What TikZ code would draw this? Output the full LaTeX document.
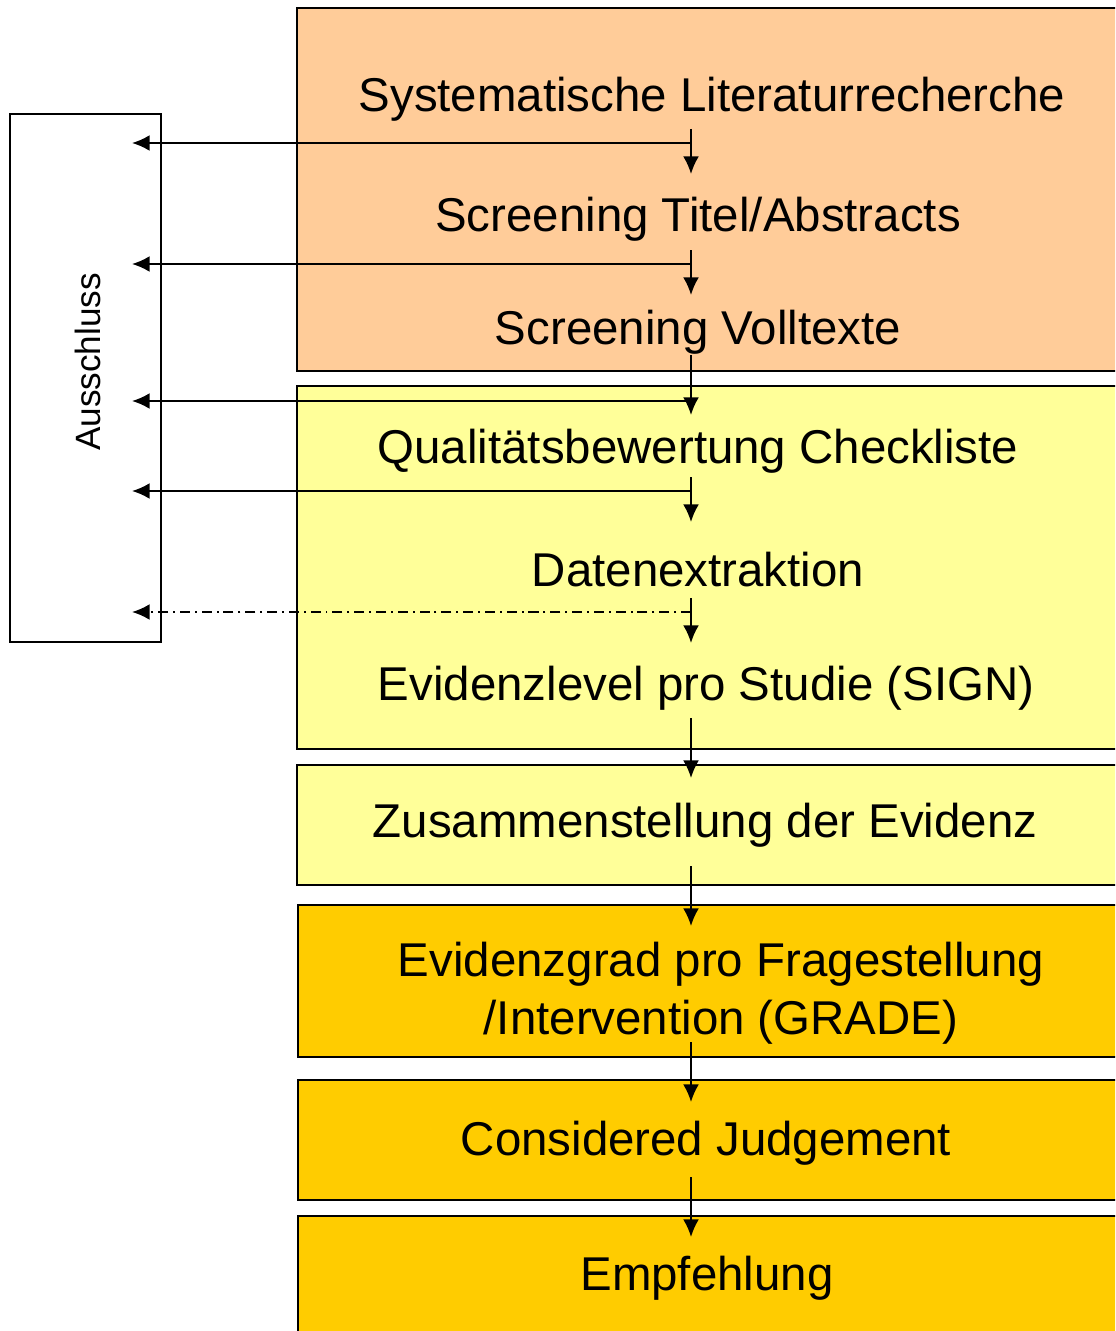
\documentclass[tikz,border=0pt]{standalone}
\usepackage{fontspec}
\setmainfont{Liberation Sans}
\usetikzlibrary{arrows.meta}
\definecolor{litorange}{HTML}{FFCC99}
\definecolor{evyellow}{HTML}{FFFF99}
\definecolor{recgold}{HTML}{FFCC00}
\tikzset{
  phase/.style={draw=black,line width=1.1pt},
  stagetext/.style={anchor=base,font=\fontsize{27}{33}\selectfont,align=center},
}
\begin{document}
\begin{tikzpicture}[>={Latex[length=10pt,width=9pt]},x=0.02cm,y=-0.02cm,line width=1.1pt]
\useasboundingbox (0,0) rectangle (1115,1331);
\clip (0,0) rectangle (1115,1331);
% Phases
\draw[phase,fill=litorange] (297,8) rectangle (1140,371);
\draw[phase,fill=evyellow] (297,386) rectangle (1140,749);
\draw[phase,fill=evyellow] (297,765) rectangle (1140,885);
\draw[phase,fill=recgold] (298,905) rectangle (1140,1057);
\draw[phase,fill=recgold] (298,1080) rectangle (1140,1200);
\draw[phase,fill=recgold] (298,1216) rectangle (1140,1360);
% Ausschluss
\node[draw,line width=1.1pt,minimum width=3.02cm,minimum height=10.56cm] (aus) at (85.5,378) {};
\node[rotate=90,font=\fontsize{20}{24}\selectfont] (auslbl) at (88,362) {Ausschluss};
\coordinate (aend) at (132,378);
% Stages
\node[stagetext] (lit) at (712,112) {Systematische Literaturrecherche};
\node[stagetext] (tiab) at (698,232) {Screening Titel/Abstracts};
\node[stagetext] (voll) at (698,344) {Screening Volltexte};
\node[stagetext] (qual) at (698,463) {Qualitätsbewertung Checkliste};
\node[stagetext] (extr) at (698,586) {Datenextraktion};
\node[stagetext] (sign) at (706,700) {Evidenzlevel pro Studie (SIGN)};
\node[stagetext] (zus) at (705,837) {Zusammenstellung der Evidenz};
\node[stagetext] (grade) at (721,1034) {Evidenzgrad pro Fragestellung\\/Intervention (GRADE)};
\node[stagetext] (cj) at (706,1155) {Considered Judgement};
\node[stagetext] (empf) at (707,1290) {Empfehlung};
% Flow
\foreach \t/\b [count=\i] in {129/174,250/295,355/415,477/522,598/643,718/778,866/926,1042/1102,1177/1237}{
  \coordinate (top\i) at (691,\t);
  \coordinate (bot\i) at (691,\b);
  \draw[->] (top\i) -- (bot\i);
}
% Exclusions
\foreach \y/\i in {143/1,264/2,401/3,491/4}{
  \coordinate (out\i) at (691,\y);
  \draw[->] (out\i) -- (aend |- out\i);
}
\coordinate (out5) at (691,612);
\draw[->,dash pattern=on 5.7pt off 2.8pt on 1.1pt off 2.8pt] (out5) -- (aend |- out5);
\end{tikzpicture}
\end{document}
